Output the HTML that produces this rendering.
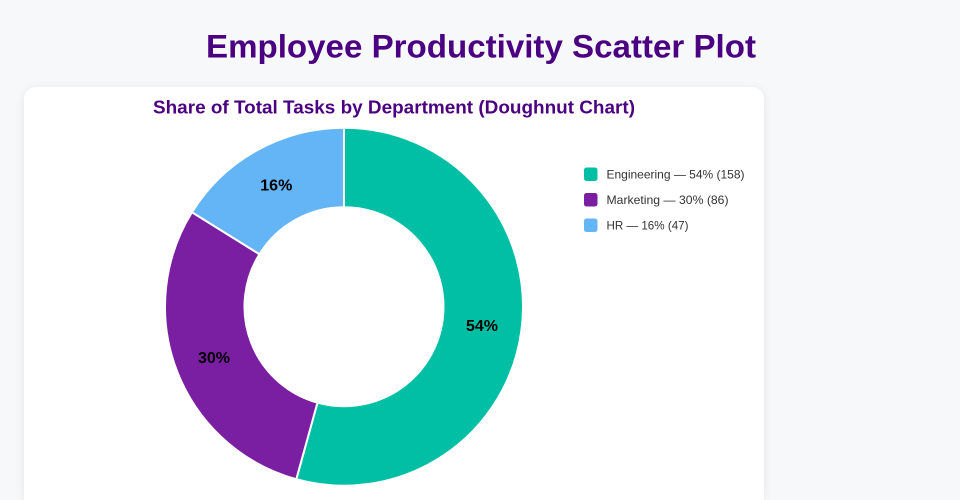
<!DOCTYPE html>
<html>
<head>
<meta charset="utf-8">
<style>
  html, body { margin:0; padding:0; width:960px; height:500px; overflow:hidden; }
  body { background:#f7f8fa; position:relative; font-family:"Liberation Sans", sans-serif; }
  .card { position:absolute; left:24px; top:87px; width:740px; height:413px; background:#fff; border-radius:12px 12px 0 0; box-shadow:0 2px 10px rgba(0,0,0,0.08); }
  svg { position:absolute; left:0; top:0; }
</style>
</head>
<body>
<div class="card"></div>
<svg width="960" height="500" viewBox="0 0 960 500" xmlns="http://www.w3.org/2000/svg">
  <text x="481" y="57.3" text-anchor="middle" font-family="Liberation Sans, sans-serif" font-weight="bold" font-size="32" fill="#4b0082" textLength="550" lengthAdjust="spacingAndGlyphs">Employee Productivity Scatter Plot</text>
  <text x="394" y="113.3" text-anchor="middle" font-family="Liberation Sans, sans-serif" font-weight="bold" font-size="18" fill="#4b0082" textLength="482" lengthAdjust="spacingAndGlyphs">Share of Total Tasks by Department (Doughnut Chart)</text>

  <g stroke="#fff" stroke-width="2" stroke-linejoin="miter">
    <path d="M344,127.7 A179,179 0 1 1 296.27,479.22 L317.47,402.6 A99.5,99.5 0 1 0 344,207.2 Z" fill="#00bfa5"/>
    <path d="M296.27,479.22 A179,179 0 0 1 191.96,212.24 L259.48,254.19 A99.5,99.5 0 0 0 317.47,402.6 Z" fill="#7b1fa2"/>
    <path d="M191.96,212.24 A179,179 0 0 1 344,127.7 L344,207.2 A99.5,99.5 0 0 0 259.48,254.19 Z" fill="#64b5f6"/>
  </g>

  <g font-family="Liberation Sans, sans-serif" font-weight="bold" font-size="16" fill="#000" text-anchor="middle">
    <text x="482" y="331">54%</text>
    <text x="214" y="363">30%</text>
    <text x="276.3" y="190.5">16%</text>
  </g>

  <g>
    <rect x="584" y="167.5" width="13.5" height="13.5" rx="2.5" fill="#00bfa5"/>
    <rect x="584" y="193" width="13.5" height="13.5" rx="2.5" fill="#7b1fa2"/>
    <rect x="584" y="218.5" width="13.5" height="13.5" rx="2.5" fill="#64b5f6"/>
  </g>
  <g font-family="Liberation Sans, sans-serif" font-size="12" fill="#333">
    <text x="606.5" y="178.5" textLength="138" lengthAdjust="spacingAndGlyphs">Engineering — 54% (158)</text>
    <text x="606.5" y="204" textLength="122" lengthAdjust="spacingAndGlyphs">Marketing — 30% (86)</text>
    <text x="606.5" y="229.5" textLength="82" lengthAdjust="spacingAndGlyphs">HR — 16% (47)</text>
  </g>
</svg>
</body>
</html>
